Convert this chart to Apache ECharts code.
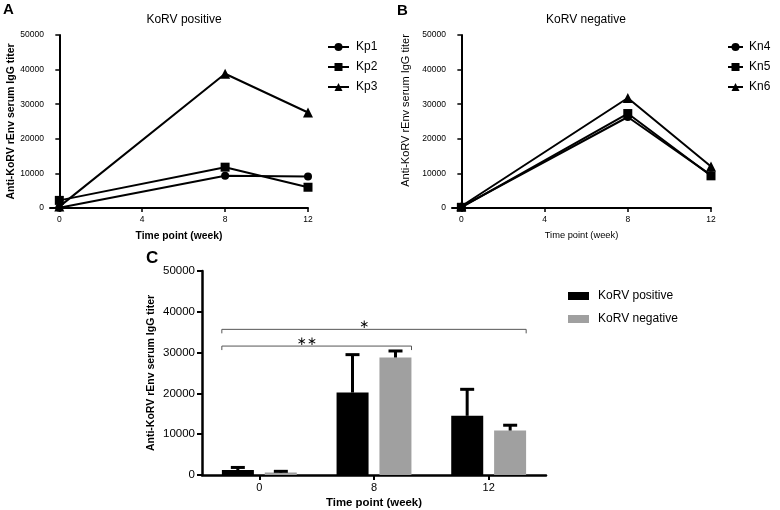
<!DOCTYPE html>
<html><head><meta charset="utf-8">
<script src="https://cdn.jsdelivr.net/npm/echarts@6/dist/echarts.min.js"></script>
<style>html,body{margin:0;padding:0;background:#fff}#c{width:780px;height:510px}</style>
</head><body><div id="c"></div>
<script>
// ---- data ----
const weeks = [0, 8, 12];
const weekTicks = [0, 4, 8, 12];
const kp1 = [100, 9300, 9100];
const kp2 = [2200, 11800, 6000];
const kp3 = [400, 38800, 27600];
const kn4 = [300, 26300, 9500];
const kn5 = [200, 27300, 9300];
const kn6 = [500, 31800, 12000];
const barCats = ['0', '8', '12'];
const posMean = [1200, 20200, 14500];
const posUpper = [1850, 29500, 21000];
const negMean = [600, 28800, 10900];
const negUpper = [900, 30400, 12200];
const bracketFrom = [0, 0];
const bracketTo = [2, 1];
const bracketY = [35700, 31600];
const bracketLabel = ['\u2217', '\u2217\u2217'];

const FONT = 'Liberation Sans';
const plain = v => String(v);
const chart = echarts.init(document.getElementById('c'), null, {renderer: 'canvas'});

function lineSeries(name, vals, symbol, idx) {
  return {
    type: 'line', name: name, xAxisIndex: idx, yAxisIndex: idx,
    data: weeks.map((w, i) => [w, vals[i]]),
    symbol: symbol,
    symbolSize: symbol === 'triangle' ? 10 : (symbol === 'rect' ? 9 : 8),
    showSymbol: true,
    lineStyle: {color: '#000', width: 2},
    itemStyle: {color: '#000'},
    emphasis: {disabled: true}
  };
}

function lineXAxis(idx, bold) {
  return {
    type: 'value', gridIndex: idx, min: -0.45, max: 12,
    name: 'Time point (week)', nameLocation: 'middle', nameGap: 23,
    nameTextStyle: {fontFamily: FONT, fontSize: bold ? 10.3 : 9.3, fontWeight: bold ? 'bold' : 'normal', color: '#000'},
    axisLine: {show: true, lineStyle: {color: '#000', width: 2}},
    axisTick: {show: true, length: 4, lineStyle: {color: '#000', width: 1.5}, customValues: weekTicks},
    axisLabel: {fontFamily: FONT, fontSize: 8.5, color: '#000', margin: 7, customValues: weekTicks, formatter: plain},
    splitLine: {show: false}
  };
}
function lineYAxis(idx, bold, gap, pad) {
  return {
    type: 'value', gridIndex: idx, min: 0, max: 50000, interval: 10000,
    name: 'Anti-KoRV rEnv serum IgG titer', nameLocation: 'middle', nameGap: gap, nameRotate: 90,
    nameTextStyle: {fontFamily: FONT, fontSize: bold ? 10.5 : 11, fontWeight: bold ? 'bold' : 'normal', color: '#000', padding: pad},
    axisLine: {show: true, lineStyle: {color: '#000', width: 2}},
    axisTick: {show: true, length: 4, lineStyle: {color: '#000', width: 1.5}},
    axisLabel: {fontFamily: FONT, fontSize: 8.5, color: '#000', margin: 6, formatter: plain},
    splitLine: {show: false}
  };
}

function errRender(offset) {
  return function (params, api) {
    const i = api.value(0);
    const base = api.coord([i, api.value(1)]);
    const top = api.coord([i, api.value(2)]);
    const x = base[0] + offset;
    return {type: 'group', children: [
      {type: 'line', shape: {x1: x, y1: base[1], x2: x, y2: top[1]}, style: {stroke: '#000', lineWidth: 3}},
      {type: 'line', shape: {x1: x - 7, y1: top[1], x2: x + 7, y2: top[1]}, style: {stroke: '#000', lineWidth: 3}}
    ]};
  };
}

function bracketRender(params, api) {
  const p1 = api.coord([api.value(0), api.value(2)]);
  const p2 = api.coord([api.value(1), api.value(2)]);
  const x1 = p1[0] - 37.5, x2 = p2[0] + 37.5, y = p1[1];
  return {type: 'group', children: [
    {type: 'polyline', shape: {points: [[x1, y + 4], [x1, y], [x2, y], [x2, y + 4]]}, style: {stroke: '#555', lineWidth: 1, fill: null}},
    {type: 'text', x: (x1 + x2) / 2 - 10, y: y - 4, style: {text: bracketLabel[params.dataIndex], fontFamily: 'DejaVu Sans', fontSize: 12, fill: '#000', textAlign: 'center', textVerticalAlign: 'middle'}}
  ]};
}

const option = {
  animation: false,
  backgroundColor: '#fff',
  title: [
    {text: 'KoRV positive', left: 179, top: 9, textAlign: 'center', textStyle: {fontFamily: FONT, fontSize: 12, fontWeight: 'normal', color: '#000'}},
    {text: 'KoRV negative', left: 581, top: 9, textAlign: 'center', textStyle: {fontFamily: FONT, fontSize: 12, fontWeight: 'normal', color: '#000'}}
  ],
  graphic: [
    {type: 'text', left: 3, top: 2, style: {text: 'A', fontFamily: FONT, fontSize: 15, fontWeight: 'bold', fill: '#000'}},
    {type: 'text', left: 397, top: 3, style: {text: 'B', fontFamily: FONT, fontSize: 15, fontWeight: 'bold', fill: '#000'}},
    {type: 'text', left: 146, top: 250, style: {text: 'C', fontFamily: FONT, fontSize: 17, fontWeight: 'bold', fill: '#000'}}
  ],
  legend: [
    {data: ['Kp1', 'Kp2', 'Kp3'], orient: 'vertical', left: 327, top: 41, padding: 0, itemWidth: 21, itemHeight: 10, itemGap: 8,
     textStyle: {fontFamily: FONT, fontSize: 12, color: '#000', padding: [0, 0, 0, 2]}},
    {data: ['Kn4', 'Kn5', 'Kn6'], orient: 'vertical', left: 727, top: 41, padding: 0, itemWidth: 15, itemHeight: 10, itemGap: 8,
     textStyle: {fontFamily: FONT, fontSize: 12, color: '#000', padding: [0, 0, 0, 1]}},
    {data: ['KoRV positive', 'KoRV negative'], orient: 'vertical', left: 568, top: 290, padding: 0, itemWidth: 21, itemHeight: 8, itemGap: 11,
     icon: 'rect', textStyle: {fontFamily: FONT, fontSize: 12, color: '#000', padding: [0, 0, 0, 4]}}
  ],
  grid: [
    {left: 50, top: 35, width: 258, height: 173},
    {left: 452, top: 35, width: 259, height: 173},
    {left: 202, top: 271, width: 344, height: 204}
  ],
  xAxis: [
    lineXAxis(0, true),
    lineXAxis(1, false),
    {type: 'category', gridIndex: 2, data: barCats,
     name: 'Time point (week)', nameLocation: 'middle', nameGap: 22,
     nameTextStyle: {fontFamily: FONT, fontSize: 11.4, fontWeight: 'bold', color: '#000'},
     axisLine: {show: true, lineStyle: {color: '#000', width: 2.5}},
     axisTick: {show: true, alignWithLabel: true, length: 5, lineStyle: {color: '#000', width: 2}},
     axisLabel: {fontFamily: FONT, fontSize: 11, color: '#000', margin: 7},
     splitLine: {show: false}}
  ],
  yAxis: [
    lineYAxis(0, true, 31, 0),
    lineYAxis(1, false, 41, [0, 0, 0, 22]),
    {type: 'value', gridIndex: 2, min: 0, max: 50000, interval: 10000,
     name: 'Anti-KoRV rEnv serum IgG titer', nameLocation: 'middle', nameGap: 45,
     nameTextStyle: {fontFamily: FONT, fontSize: 10.5, fontWeight: 'bold', color: '#000'},
     axisLine: {show: true, lineStyle: {color: '#000', width: 2.5}},
     axisTick: {show: true, length: 5, lineStyle: {color: '#000', width: 2}},
     axisLabel: {fontFamily: FONT, fontSize: 11.5, color: '#000', margin: 7, formatter: plain},
     splitLine: {show: false}}
  ],
  series: [
    lineSeries('Kp1', kp1, 'circle', 0),
    lineSeries('Kp2', kp2, 'rect', 0),
    lineSeries('Kp3', kp3, 'triangle', 0),
    lineSeries('Kn4', kn4, 'circle', 1),
    lineSeries('Kn5', kn5, 'rect', 1),
    lineSeries('Kn6', kn6, 'triangle', 1),
    {type: 'bar', name: 'KoRV positive', xAxisIndex: 2, yAxisIndex: 2, data: posMean, barWidth: 32, barGap: '34%',
     itemStyle: {color: '#000'}, emphasis: {disabled: true}},
    {type: 'bar', name: 'KoRV negative', xAxisIndex: 2, yAxisIndex: 2, data: negMean, barWidth: 32, barGap: '34%',
     itemStyle: {color: '#a0a0a0'}, emphasis: {disabled: true}},
    {type: 'custom', xAxisIndex: 2, yAxisIndex: 2, renderItem: errRender(-21.5), z: 3,
     data: barCats.map((c, i) => [i, posMean[i], posUpper[i]])},
    {type: 'custom', xAxisIndex: 2, yAxisIndex: 2, renderItem: errRender(21.5), z: 3,
     data: barCats.map((c, i) => [i, negMean[i], negUpper[i]])},
    {type: 'custom', xAxisIndex: 2, yAxisIndex: 2, renderItem: bracketRender, z: 4,
     data: bracketFrom.map((f, i) => [f, bracketTo[i], bracketY[i]])}
  ]
};
chart.setOption(option);
</script>
</body></html>
